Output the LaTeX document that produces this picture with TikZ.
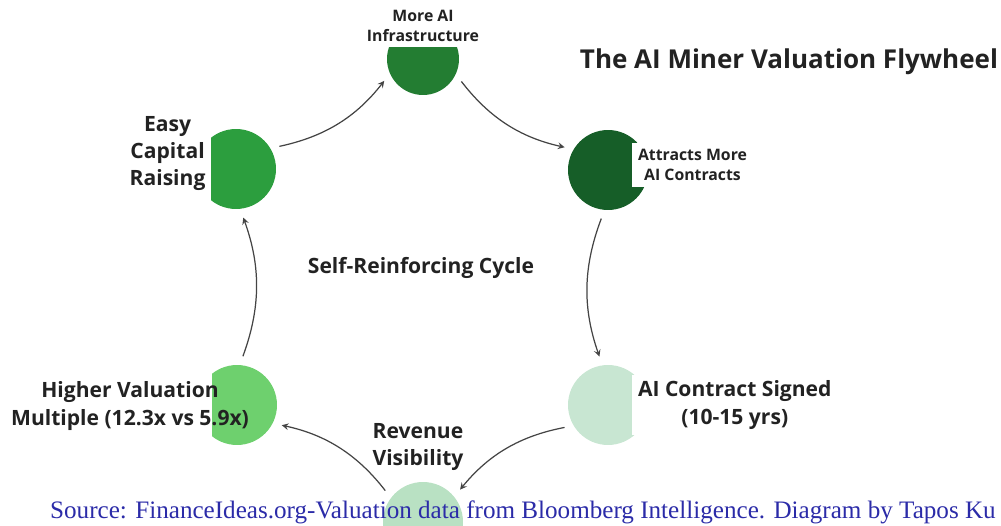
\documentclass[tikz,border=0pt]{standalone}
\usepackage{fontspec}
\setmainfont{Open Sans}
\newfontfamily\sourcefont{Liberation Serif}
\usepackage{xcolor}
\usetikzlibrary{shapes,arrows,positioning}

\definecolor{infragreen}{HTML}{237D32}
\definecolor{attractgreen}{HTML}{165E28}
\definecolor{easygreen}{HTML}{2C9E3E}
\definecolor{highergreen}{HTML}{6ED06E}
\definecolor{contractgreen}{HTML}{C8E6D2}
\definecolor{revenuegreen}{HTML}{B9E1C3}
\definecolor{textgray}{HTML}{222222}
\definecolor{arrowgray}{HTML}{444444}
\definecolor{sourceblue}{HTML}{2B2BA8}

\begin{document}
\begin{tikzpicture}[x=0.02cm, y=0.02cm, node distance=1cm, auto]
    % Define styles
    \tikzstyle{disc} = [circle, minimum size=1.6cm, inner sep=0pt, draw=none]
    \tikzstyle{cycletext} = [align=center, text=textgray, font=\bfseries\fontsize{12}{15.6}\selectfont]
    \tikzstyle{smalltext} = [cycletext, font=\bfseries\fontsize{9}{11.5}\selectfont]
    \tikzstyle{cover} = [fill=white]
    \tikzstyle{cyclearrow} = [->, >=stealth, draw=arrowgray, line width=0.7pt, shorten >=0.18cm, shorten <=0.18cm, bend right=20]

    \useasboundingbox (0,0) rectangle (1001,-526);

    % Nodes
    \node[disc, fill=infragreen, minimum size=1.44cm] (infra) at (423,-59) {};
    \node[disc, fill=attractgreen] (attracts) at (608,-170) {};
    \node[disc, fill=easygreen] (easy) at (236,-169) {};
    \begin{scope}
        \clip (212,-360) rectangle (290,-450);
        \node[disc, fill=highergreen] (higher) at (237,-405) {};
    \end{scope}
    \node[disc, fill=contractgreen] (contract) at (608,-405) {};
    \node[disc, fill=revenuegreen] (revenue) at (423,-522) {};

    \node[smalltext, cover, above=-0.5cm of infra] (infra_txt) {More AI\\Infrastructure};
    \node[smalltext, cover, right=-0.33cm of attracts, yshift=0.1cm] (attracts_txt) {Attracts More\\AI Contracts};
    \node[cycletext, cover, left=-0.32cm of easy, yshift=0.31cm, minimum height=2cm] (easy_txt) {Easy\\Capital\\Raising};
    \node[cycletext, cover, right=-0.33cm of contract] (contract_txt) {AI Contract Signed\\(10-15 yrs)};
    \node[cycletext] (higher_txt) at (130,-406) {Higher Valuation\\Multiple (12.3x vs 5.9x)};
    \node[cycletext] (revenue_txt) at (418,-447) {Revenue\\Visibility};
    \node[cycletext] (cycle_txt) at (421,-268) {Self-Reinforcing Cycle};
    \node[text=textgray, font=\bfseries\fontsize{14.8}{17}\selectfont] (title) at (789,-62) {The AI Miner Valuation Flywheel};
    \node[anchor=west, text=sourceblue, font=\sourcefont\fontsize{14.3}{17}\selectfont] (source) at (44,-512) {Source: FinanceIdeas.org-Valuation data from Bloomberg Intelligence. Diagram by Tapos Ku};

    % Connections
    \draw[cyclearrow] (easy.31) to (infra.204);
    \draw[cyclearrow] (infra.335) to (attracts.149);
    \draw[cyclearrow] (attracts.265) to (contract.98);
    \draw[cyclearrow] (contract.211) to (revenue.39);
    \draw[cyclearrow] (revenue.143) to (higher.333);
    \draw[cyclearrow] (higher.86) to (easy.276);
\end{tikzpicture}
\end{document}
